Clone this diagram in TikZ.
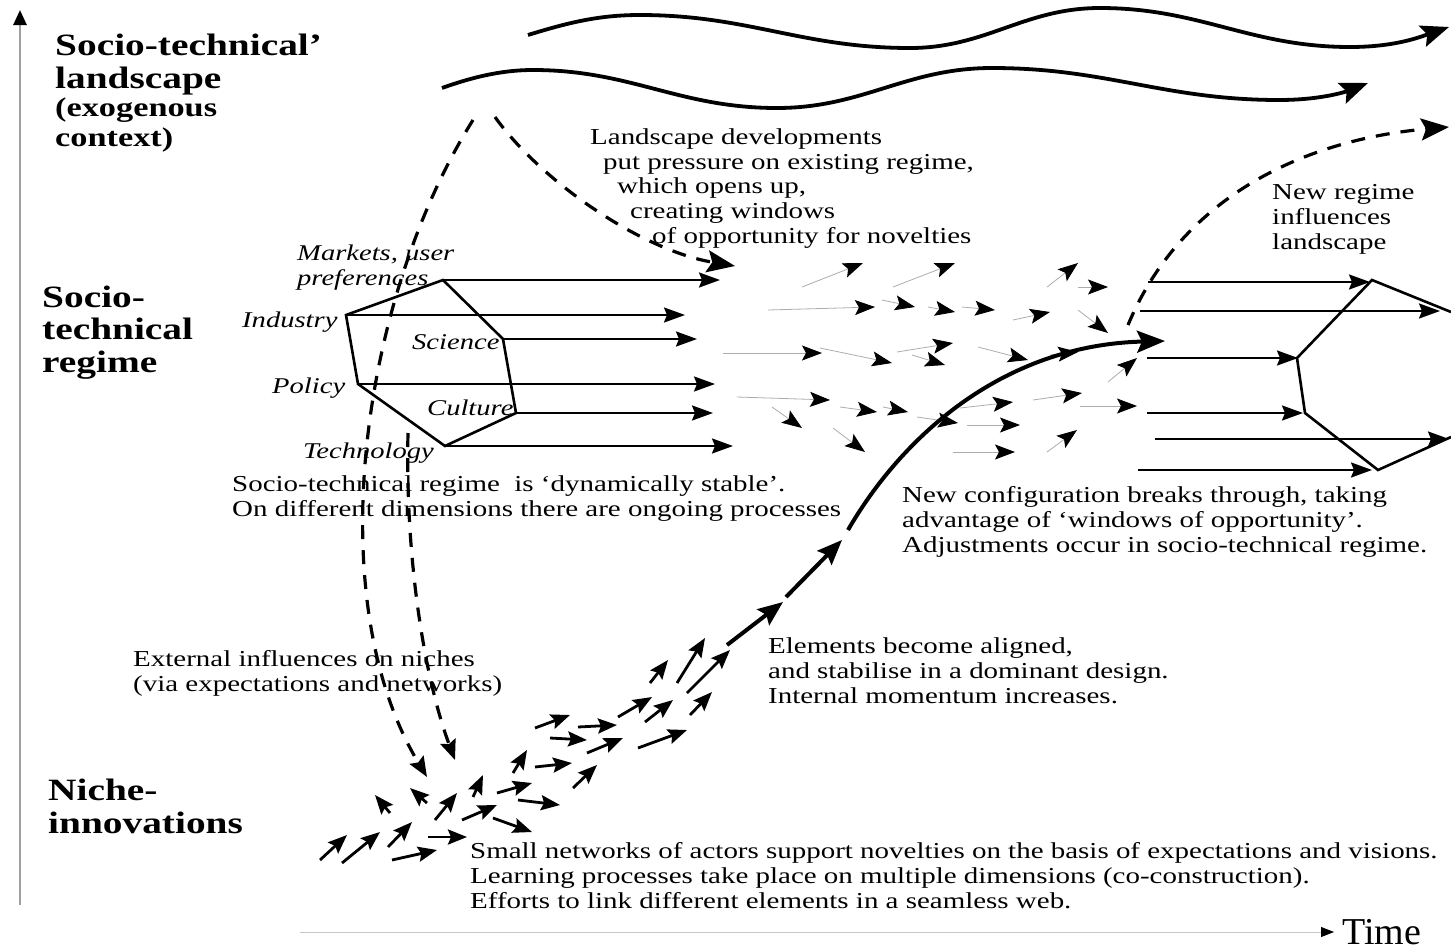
\documentclass[tikz,border=0pt]{standalone}
\usepackage{fontspec}
\setmainfont{Liberation Serif}
\newfontfamily\widefont{Liberation Serif}[FakeStretch=1.27]
\usetikzlibrary{arrows.meta}

\tikzset{
  >=Stealth,
  % --- texts (anchored on the baseline of their last line)
  tier/.style     = {anchor=base west, inner sep=0pt, align=left,
                     font=\widefont\fontsize{31}{32.5}\selectfont\bfseries},
  tiersub/.style  = {tier, font=\widefont\fontsize{27}{30}\selectfont\bfseries},
  note/.style     = {anchor=base west, inner sep=0pt, align=left,
                     font=\widefont\fontsize{22.8}{24.6}\selectfont},
  dim/.style      = {anchor=base west, inner sep=0pt, align=left,
                     font=\widefont\fontsize{22.5}{25}\selectfont\itshape},
  % --- lines
  axis/.style     = {draw=gray!75, line width=2.6pt, -{Triangle[black,length=15pt,width=13pt]}},
  timeaxis/.style = {draw=gray!45, line width=0.8pt, -{Triangle[black,length=13pt,width=10pt]}},
  hexa/.style     = {line width=2.6pt, line join=miter},
  flow/.style     = {line width=2.3pt, -{Stealth[length=21pt,width=15pt,inset=3pt]}},
  drift/.style    = {draw=gray!65, line width=0.8pt, -{Stealth[black,length=20pt,width=15pt,inset=4pt]}},
  push/.style     = {line width=2.8pt, -{Stealth[length=19pt,width=15pt,inset=3pt]}},
  surge/.style    = {line width=4pt, -{Stealth[length=25pt,width=20pt,inset=4pt]}},
  wave/.style     = {line width=3.8pt, -{Stealth[length=28pt,width=22pt,inset=5pt]}},
  hint/.style     = {line width=3.2pt, dash pattern=on 14pt off 11pt,
                     -{Stealth[length=20pt,width=16pt,inset=3pt]}},
  bighint/.style  = {hint, -{Stealth[length=28pt,width=22pt,inset=5pt]}},
}

\begin{document}
\begin{tikzpicture}[x=1pt,y=-1pt]
  \useasboundingbox (0,0) rectangle (1451,951);

  % axes
  \draw[axis] (20,905) -- (20,10);
  \draw[timeaxis] (300,932) -- (1334,932);
  \node[anchor=base west,inner sep=0pt,font=\fontsize{38}{38}\selectfont] (time) at (1342,944) {Time};

  % the three levels
  \node[tier]    (land)   at (55,88)  {Socio-technical’\\landscape};
  \node[tiersub] (exo)    at (55,146) {(exogenous\\context)};
  \node[tier]    (regime) at (42,372) {Socio-\\technical\\regime};
  \node[tier]    (niche)  at (48,833) {Niche-\\innovations};

  % landscape waves
  \draw[wave] (528,35) .. controls (570,22) and (600,15) .. (640,15)
              .. controls (748,15) and (802,48) .. (910,48)
              .. controls (986,48) and (1024,8) .. (1100,8)
              .. controls (1200,8) and (1250,47) .. (1350,47)
              .. controls (1395,47) and (1420,37) .. (1449,27);
  \draw[wave] (442,88) .. controls (470,78) and (500,70) .. (533,70)
              .. controls (631,70) and (679,108) .. (777,108)
              .. controls (863,108) and (906,68) .. (992,68)
              .. controls (1107,68) and (1164,100) .. (1279,100)
              .. controls (1320,100) and (1345,92) .. (1368,83);

  % old regime
  \coordinate (hT)  at (443,280);
  \coordinate (hRU) at (503,339);
  \coordinate (hRL) at (516,413);
  \coordinate (hB)  at (445,446);
  \coordinate (hLL) at (358,384);
  \coordinate (hLU) at (346,315);
  \draw[hexa] (hT) -- (hRU) -- (hRL) -- (hB) -- (hLL) -- (hLU) -- cycle;
  \draw[flow] (hT)  -- ++(277,0);
  \draw[flow] (hLU) -- ++(339,0);
  \draw[flow] (hRU) -- ++(194,0);
  \draw[flow] (hLL) -- ++(357,0);
  \draw[flow] (hRL) -- ++(197,0);
  \draw[flow] (hB)  -- ++(288,0);

  \node[dim] (markets)  at (297,285) {Markets, user\\preferences};
  \node[dim] (industry) at (242,327) {Industry};
  \node[dim] (science)  at (412,349) {Science};
  \node[dim] (policy)   at (272,393) {Policy};
  \node[dim] (culture)  at (427,415) {Culture};
  \node[dim] (techno)   at (303,458) {Technology};

  % loose processes in the regime
  \foreach \a/\b/\c/\d in {
    802/287/863/263, 893/287/955/263, 768/310/875/307, 882/300/915/307,
    928/307/955/312, 962/307/995/310, 1013/320/1050/312, 1047/287/1078/263,
    1078/287/1108/287, 1078/310/1108/333, 723/353/822/353, 820/348/892/363,
    897/352/953/343, 912/355/945/365, 978/347/1028/360, 1050/355/1078/352,
    1108/382/1137/358, 737/397/830/400, 772/407/802/428, 840/407/877/412,
    883/407/908/412, 917/417/958/423, 960/408/1013/402, 967/425/1020/425,
    1033/400/1082/393, 1080/406/1137/406, 833/428/865/452, 953/452/1015/452,
    1047/452/1077/430}
    \draw[drift] (\a,\b) -- (\c,\d);

  % new regime
  \draw[hexa] (1451,312) -- (1372,280) -- (1297,358) -- (1305,413) -- (1378,470) -- (1451,437);
  \foreach \a/\b/\c in {1148/282/1370, 1140/311/1440, 1147/358/1298,
                        1147/413/1303, 1155/439/1449, 1138/470/1372}
    \draw[flow] (\a,\b) -- (\c,\b);

  % niche
  \foreach \a/\b/\c/\d in {
    320/860/347/835, 342/863/380/832, 388/847/412/822, 392/860/437/850,
    390/813/375/795, 427/803/410/788, 435/820/457/793, 428/837/467/837,
    462/820/497/805, 493/818/532/832, 473/797/483/775, 497/793/532/783,
    513/773/527/750, 518/800/560/805, 535/767/572/763, 573/788/597/765,
    535/728/570/715, 550/738/587/740, 578/727/617/725, 587/753/623/738,
    638/748/687/730, 618/717/652/697, 645/722/673/700, 650/683/668/660,
    677/683/705/638, 687/693/730/650, 690/715/712/692}
    \draw[push] (\a,\b) -- (\c,\d);

  % breakthrough
  \draw[surge] (727,645) -- (783,602);
  \draw[surge] (786,597) -- (842,540);
  \draw[surge,-{Stealth[length=28pt,width=22pt,inset=5pt]}]
    (848,530) .. controls (900,440) and (1000,345) .. (1165,341);

  % influences
  \draw[hint] (473,120) .. controls (360,300) and (320,600) .. (427,777);
  \draw[hint] (408,433) .. controls (405,560) and (425,680) .. (455,760);
  \draw[bighint] (495,117) .. controls (540,180) and (640,250) .. (735,266);
  \draw[bighint] (1128,325) .. controls (1180,200) and (1300,140) .. (1449,127);

  % notes
  \node[note] (pressure) at (590,243) {Landscape developments\\
    \hspace*{13pt}put pressure on existing regime,\\
    \hspace*{27pt}which opens up,\\
    \hspace*{40pt}creating windows\\
    \hspace*{62pt}of opportunity for novelties};
  \node[note] (stable) at (232,516)
    {Socio-technical regime\ \ is ‘dynamically stable’.\\On different dimensions there are ongoing processes};
  \node[note] (newreg) at (1272,249) {New regime\\influences\\landscape};
  \node[note] (config) at (902,552)
    {New configuration breaks through, taking\\advantage of ‘windows of opportunity’.\\Adjustments occur in socio-technical regime.};
  \node[note] (aligned) at (768,703)
    {Elements become aligned,\\and stabilise in a dominant design.\\Internal momentum increases.};
  \node[note] (external) at (133,691)
    {External influences on niches\\(via expectations and networks)};
  \node[note] (small) at (470,908)
    {Small networks of actors support novelties on the basis of expectations and visions.\\
     Learning processes take place on multiple dimensions (co-construction).\\
     Efforts to link different elements in a seamless web.};
\end{tikzpicture}
\end{document}
